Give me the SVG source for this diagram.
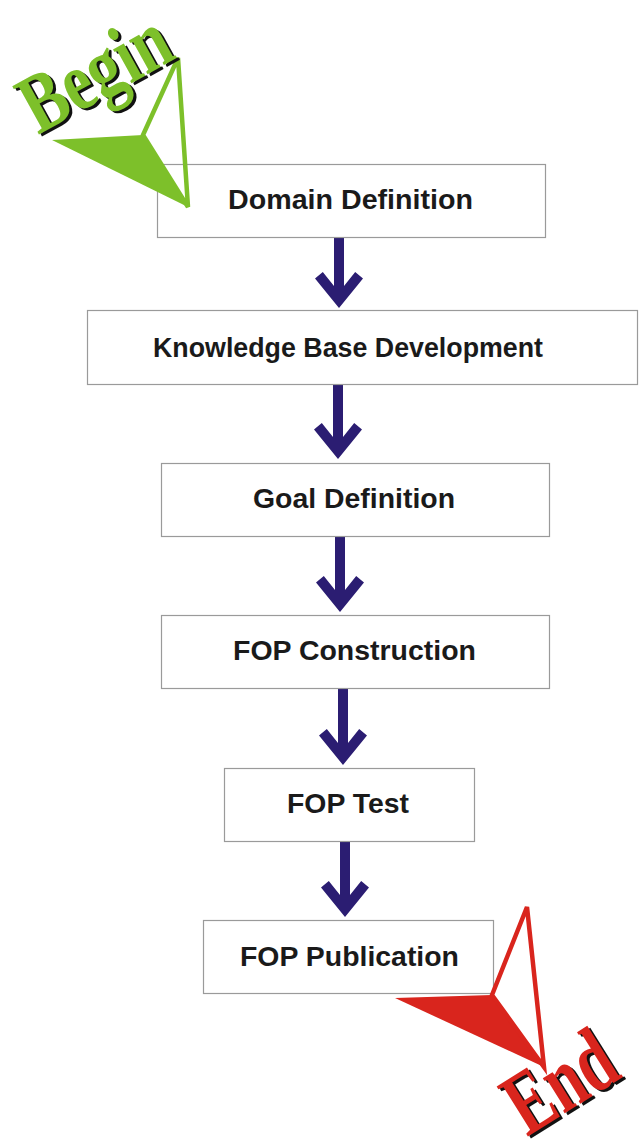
<svg xmlns="http://www.w3.org/2000/svg" width="639" height="1142" viewBox="0 0 639 1142">
<style>
.box{fill:#fff;stroke:#9a9a9a;stroke-width:1.2}
.lbl{font-family:"Liberation Sans",Arial,sans-serif;font-weight:bold;font-size:27.5px;fill:#1a1a1a;text-anchor:middle}
.arr{fill:#2b1d72}
.big{font-family:"Liberation Serif","Times New Roman",serif;font-weight:bold}
</style>
<defs>
<path id="arrow" d="M-5,0 H5 V55.9 L16.2,42.1 L24,48.4 L0,78 L-24,48.4 L-16.2,42.1 L-5,55.9 Z"/>
</defs>
<rect width="639" height="1142" fill="#fff"/>
<g id="connectors" class="arr">
<use href="#arrow" transform="translate(339,230)"/>
<use href="#arrow" transform="translate(338,381)"/>
<use href="#arrow" transform="translate(340,534)"/>
<use href="#arrow" transform="translate(343,687)"/>
<use href="#arrow" transform="translate(345,839)"/>
</g>
<g id="domain-definition">
<rect class="box" x="157.5" y="164.5" width="388" height="73"/>
<text class="lbl" x="350.5" y="209" textLength="245" lengthAdjust="spacingAndGlyphs">Domain Definition</text>
</g>
<g id="knowledge-base-development">
<rect class="box" x="87.5" y="310.5" width="550" height="74"/>
<text class="lbl" x="348" y="357" textLength="390" lengthAdjust="spacingAndGlyphs">Knowledge Base Development</text>
</g>
<g id="goal-definition">
<rect class="box" x="161.5" y="463.5" width="388" height="73"/>
<text class="lbl" x="354" y="508" textLength="202" lengthAdjust="spacingAndGlyphs">Goal Definition</text>
</g>
<g id="fop-construction">
<rect class="box" x="161.5" y="615.5" width="388" height="73"/>
<text class="lbl" x="354.5" y="660" textLength="243" lengthAdjust="spacingAndGlyphs">FOP Construction</text>
</g>
<g id="fop-test">
<rect class="box" x="224.5" y="768.5" width="250" height="73"/>
<text class="lbl" x="348" y="813" textLength="122" lengthAdjust="spacingAndGlyphs">FOP Test</text>
</g>
<g id="fop-publication">
<rect class="box" x="203.5" y="920.5" width="290" height="73"/>
<text class="lbl" x="349.5" y="966" textLength="219" lengthAdjust="spacingAndGlyphs">FOP Publication</text>
</g>
<g id="begin">
<polygon points="52,140 143,135 188,207" fill="#7dc02a"/>
<polygon points="143,135 178,58 188,207" fill="none" stroke="#7dc02a" stroke-width="4.5"/>
<text class="big" transform="translate(41,137) rotate(-29)" font-size="84" textLength="160" lengthAdjust="spacingAndGlyphs" fill="#111">Begin</text>
<text class="big" transform="translate(38,135) rotate(-29)" font-size="84" textLength="160" lengthAdjust="spacingAndGlyphs" fill="#7dc02a">Begin</text>
</g>
<g id="end">
<polygon points="395,998 492,995 544,1067" fill="#d9251d"/>
<polygon points="492,995 527,907 544,1067" fill="none" stroke="#d9251d" stroke-width="4.5"/>
<text class="big" transform="translate(530,1139) rotate(-32)" font-size="90" textLength="114" lengthAdjust="spacingAndGlyphs" fill="#111">End</text>
<text class="big" transform="translate(527,1137) rotate(-32)" font-size="90" textLength="114" lengthAdjust="spacingAndGlyphs" fill="#d9251d">End</text>
</g>
</svg>
